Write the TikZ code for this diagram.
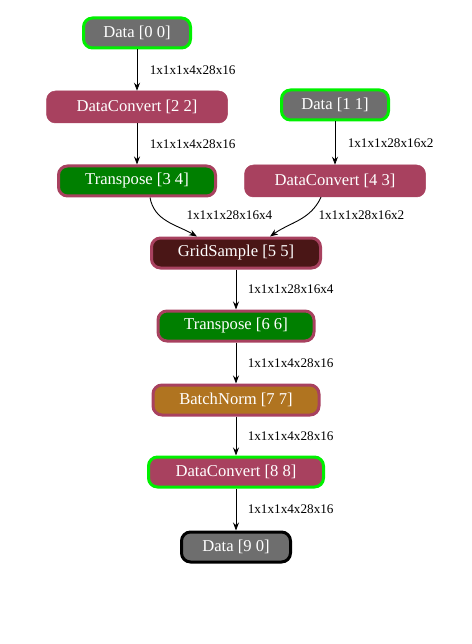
\documentclass[tikz,border=0pt]{standalone}
\usepackage{fontspec}
\setmainfont{Liberation Serif}
\usepackage{xcolor}
\usepackage{tikz}
\usetikzlibrary{arrows.meta,positioning}
\definecolor{ngray}{HTML}{6E6E6E}
\definecolor{nrose}{HTML}{A8415F}
\definecolor{ngreen}{HTML}{007F00}
\definecolor{nbrown}{HTML}{4A1616}
\definecolor{nochre}{HTML}{B07420}
\definecolor{nlime}{HTML}{00F000}
\tikzset{
  >={Stealth[length=8pt,width=6pt]},
  gop/.style={rounded corners=9pt, text=white, minimum height=30pt, inner sep=0pt,
              font=\fontsize{16.6}{18}\selectfont, line width=3pt},
  gin/.style={gop, fill=ngray, draw=nlime},
  gout/.style={gop, fill=ngray, draw=black},
  gconv/.style={gop, fill=nrose, draw=nrose, line width=0.5pt, minimum height=32pt},
  gconvo/.style={gop, fill=nrose, draw=nlime},
  gtrans/.style={gop, fill=ngreen, draw=nrose},
  ggrid/.style={gop, fill=nbrown, draw=nrose},
  gnorm/.style={gop, fill=nochre, draw=nrose},
  gedge/.style={->, black, line width=0.9pt},
  glbl/.style={font=\fontsize{13.2}{15}\selectfont, black},
}

\begin{document}
\begin{tikzpicture}[x=1pt,y=1pt]

  \useasboundingbox (0,0) rectangle (471,-644);

  % entradas e conversoes
  \node[gin, minimum width=107]   (d00)  at (137,-33)  {Data [0 0]};
  \node[gconv, minimum width=181] (dc22) at (137,-107) {DataConvert [2 2]};
  \node[gin, minimum width=107]   (d11)  at (335,-105) {Data [1 1]};
  \node[gtrans, minimum width=157](t34)  at (137,-181) {Transpose [3 4]};
  \node[gconv, minimum width=181] (dc43) at (335,-181) {DataConvert [4 3]};

  % cadeia central
  \node[ggrid, minimum width=169] (gs)   at (236,-253) {GridSample [5 5]};
  \node[gtrans, minimum width=156](t66)  at (236,-326) {Transpose [6 6]};
  \node[gnorm, minimum width=166] (bn)   at (236,-400) {BatchNorm [7 7]};
  \node[gconvo, minimum width=175](dc88) at (236,-472) {DataConvert [8 8]};
  \node[gout, minimum width=109]  (d90)  at (236,-547) {Data [9 0]};

  % arestas
  \draw[gedge] (d00) -- node[glbl, right=9pt] {1x1x1x4x28x16} (dc22);
  \draw[gedge] (dc22) -- node[glbl, right=9pt] {1x1x1x4x28x16} (t34);
  \draw[gedge] (d11) -- node[glbl, right=9pt] {1x1x1x28x16x2} (dc43);
  \draw[gedge] ([xshift=13pt]t34.south) to[out=-80,in=150] ([xshift=-39pt]gs.north);
  \node[glbl, anchor=west] (l1) at (183,-215) {1x1x1x28x16x4};
  \draw[gedge] ([xshift=-14pt]dc43.south) to[out=-115,in=35] ([xshift=34pt]gs.north);
  \node[glbl, anchor=west] (l2) at (315,-215) {1x1x1x28x16x2};
  \draw[gedge] (gs) -- node[glbl, right=8pt] {1x1x1x28x16x4} (t66);
  \draw[gedge] (t66) -- node[glbl, right=8pt] {1x1x1x4x28x16} (bn);
  \draw[gedge] (bn) -- node[glbl, right=8pt] {1x1x1x4x28x16} (dc88);
  \draw[gedge] (dc88) -- node[glbl, right=8pt] {1x1x1x4x28x16} (d90);

\end{tikzpicture}
\end{document}
